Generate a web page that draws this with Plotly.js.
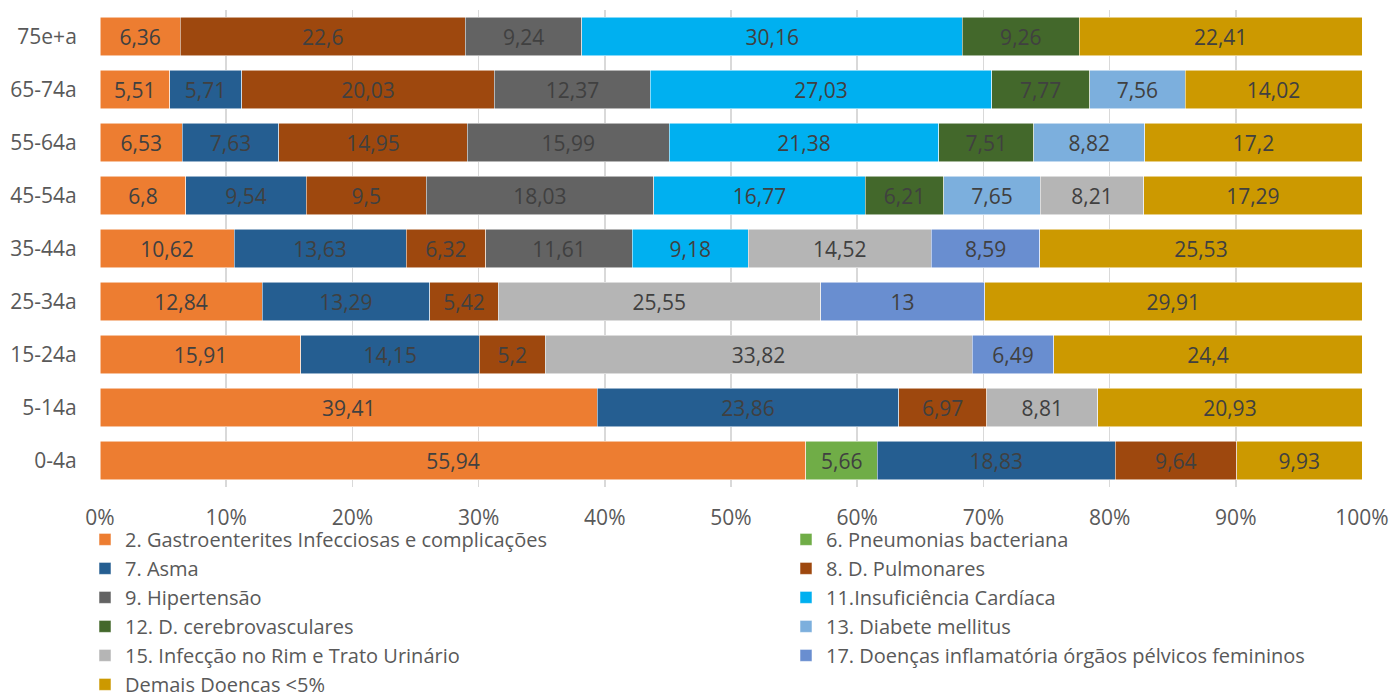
<!DOCTYPE html>
<html>
<head>
<meta charset="utf-8">
<script src="https://cdn.plot.ly/plotly-3.0.1.min.js"></script>
<style>
  html, body { margin: 0; padding: 0; background: #fff; overflow: hidden; }
  #chart { width: 1392px; height: 692px; }
</style>
</head>
<body>
<div id="chart"></div>
<script>
// Age groups, bottom to top
const ageGroups = ['0-4a', '5-14a', '15-24a', '25-34a', '35-44a', '45-54a', '55-64a', '65-74a', '75e+a'];

// Share (%) of each cause within every age group
const gastro    = [55.94, 39.41, 15.91, 12.84, 10.62, 6.8, 6.53, 5.51, 6.36];
const pneumo    = [5.66, null, null, null, null, null, null, null, null];
const asma      = [18.83, 23.86, 14.15, 13.29, 13.63, 9.54, 7.63, 5.71, null];
const pulmon    = [9.64, 6.97, 5.2, 5.42, 6.32, 9.5, 14.95, 20.03, 22.6];
const hiperten  = [null, null, null, null, 11.61, 18.03, 15.99, 12.37, 9.24];
const insufCard = [null, null, null, null, 9.18, 16.77, 21.38, 27.03, 30.16];
const cerebro   = [null, null, null, null, null, 6.21, 7.51, 7.77, 9.26];
const diabetes  = [null, null, null, null, null, 7.65, 8.82, 7.56, null];
const rimTrato  = [null, 8.81, 33.82, 25.55, 14.52, 8.21, null, null, null];
const pelvicos  = [null, null, 6.49, 13, 8.59, null, null, null, null];
const demais    = [9.93, 20.93, 24.4, 29.91, 25.53, 17.29, 17.2, 14.02, 22.41];

const seriesNames = [
  '2. Gastroenterites Infecciosas e complicações',
  '6. Pneumonias bacteriana',
  '7. Asma',
  '8. D. Pulmonares',
  '9. Hipertensão',
  '11.Insuficiência Cardíaca',
  '12. D. cerebrovasculares',
  '13. Diabete mellitus',
  '15. Infecção no Rim e Trato Urinário',
  '17. Doenças inflamatória órgãos pélvicos femininos',
  'Demais Doencas <5%'
];
const seriesValues = [gastro, pneumo, asma, pulmon, hiperten, insufCard, cerebro, diabetes, rimTrato, pelvicos, demais];
const seriesColors = ['#ED7D31', '#70AD47', '#255E91', '#9E480E', '#636363', '#00B0F0',
                      '#43682B', '#7CAFDD', '#B5B5B5', '#698ED0', '#CC9900'];

const FONT = 'Open Sans, sans-serif';
const TEXT_GRAY = '#595959';
const M_LEFT = 100, M_RIGHT = 30;
const PLOT_W = 1392 - M_LEFT - M_RIGHT;

// Legend entries alternate between a left and a right column
const traces = seriesNames.map((name, i) => ({
  type: 'bar',
  orientation: 'h',
  name: name,
  legend: i % 2 === 0 ? 'legend' : 'legend2',
  y: ageGroups,
  x: seriesValues[i],
  customdata: seriesValues[i],
  texttemplate: '%{customdata:.2~f}',
  textposition: 'inside',
  insidetextanchor: 'middle',
  textangle: 0,
  constraintext: 'none',
  textfont: { family: FONT, size: 21, color: '#404040' },
  hoverinfo: 'name+x',
  marker: { color: seriesColors[i], line: { color: 'rgba(255,255,255,0.7)', width: 0.75 } }
}));

const legendBase = {
  orientation: 'v',
  traceorder: 'normal',
  xref: 'paper',
  yref: 'container',
  xanchor: 'left',
  yanchor: 'top',
  y: 0.2487,
  itemwidth: 30,
  tracegroupgap: 0,
  font: { family: FONT, size: 20, color: TEXT_GRAY },
  bgcolor: 'rgba(0,0,0,0)',
  borderwidth: 0
};

const layout = {
  width: 1392,
  height: 692,
  margin: { l: M_LEFT, r: M_RIGHT, t: 10, b: 205 },
  barmode: 'stack',
  barnorm: 'percent',
  bargap: 0.27,
  separators: ',.',
  paper_bgcolor: '#fff',
  plot_bgcolor: '#fff',
  font: { family: FONT, size: 21, color: TEXT_GRAY },
  xaxis: {
    range: [0, 100],
    dtick: 10,
    ticksuffix: '%',
    showgrid: true,
    gridcolor: '#D9D9D9',
    gridwidth: 1.5,
    zeroline: false,
    showline: false,
    ticks: 'outside',
    ticklen: 12,
    tickcolor: 'rgba(0,0,0,0)',
    tickfont: { family: FONT, size: 21, color: TEXT_GRAY },
    fixedrange: true
  },
  yaxis: {
    type: 'category',
    categoryorder: 'array',
    categoryarray: ageGroups,
    showgrid: false,
    zeroline: false,
    showline: false,
    ticks: 'outside',
    ticklen: 18,
    tickcolor: 'rgba(0,0,0,0)',
    tickfont: { family: FONT, size: 21, color: TEXT_GRAY },
    fixedrange: true
  },
  showlegend: true,
  legend: Object.assign({}, legendBase, { x: (85 - M_LEFT) / PLOT_W }),
  legend2: Object.assign({}, legendBase, { x: (786 - M_LEFT) / PLOT_W })
};

Plotly.newPlot('chart', traces, layout, { displayModeBar: false, staticPlot: true });
</script>
</body>
</html>
